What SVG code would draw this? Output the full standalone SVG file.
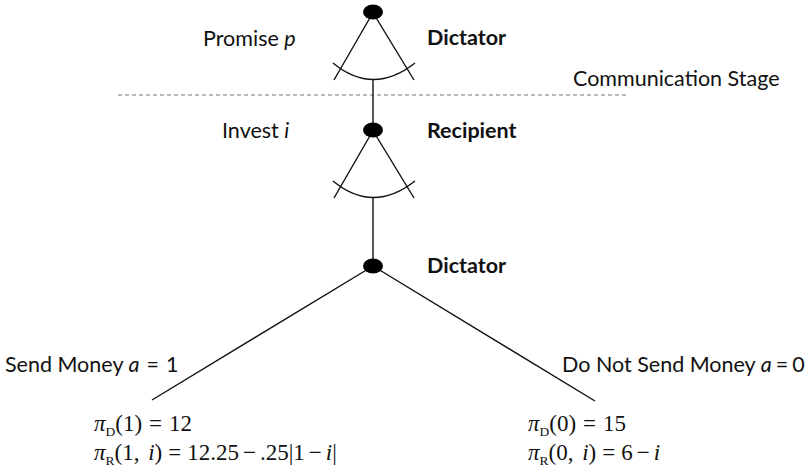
<svg xmlns="http://www.w3.org/2000/svg" width="808" height="473" viewBox="0 0 808 473">
<style>
.ln{stroke:#111;stroke-width:1.4;fill:none}
.dash{stroke:#777;stroke-width:1.2;stroke-dasharray:4,3;fill:none}
.nd{fill:#000}
.sans{font-family:Lato,"Open Sans","Liberation Sans",sans-serif;font-size:21.5px;fill:#111}
.b{font-weight:bold}
.math{font-family:"Liberation Serif","DejaVu Serif",serif;font-size:23px;fill:#111}
.sub{font-size:13.5px}
.it{font-style:italic}
</style>
<rect width="808" height="473" fill="#fff"/>
<g id="connectors">
<line class="dash" x1="118" y1="95" x2="628" y2="95"/>
<line class="ln" x1="371" y1="16" x2="334" y2="80"/>
<line class="ln" x1="375" y1="16" x2="414" y2="80"/>
<path class="ln" d="M333,63 Q373,96 415,63"/>
<line class="ln" x1="373" y1="80" x2="373" y2="126"/>
<line class="ln" x1="371" y1="134" x2="334" y2="198"/>
<line class="ln" x1="375" y1="134" x2="414" y2="198"/>
<path class="ln" d="M333,181 Q373,214 415,181"/>
<line class="ln" x1="373" y1="198" x2="373" y2="262"/>
<line class="ln" x1="373" y1="266" x2="152" y2="400"/>
<line class="ln" x1="373" y1="266" x2="595" y2="401"/>
</g>
<g id="node-dictator-top">
<ellipse class="nd" cx="373" cy="12" rx="10" ry="7.5"/>
<text class="sans" x="203" y="46">Promise <tspan class="it">p</tspan></text>
<text class="sans b" x="427" y="45">Dictator</text>
</g>
<g id="label-communication">
<text class="sans" x="573" y="86">Communication Stage</text>
</g>
<g id="node-recipient">
<ellipse class="nd" cx="373" cy="130" rx="10" ry="7.5"/>
<text class="sans" x="222" y="138">Invest <tspan class="it">i</tspan></text>
<text class="sans b" x="427" y="138">Recipient</text>
</g>
<g id="node-dictator-bottom">
<ellipse class="nd" cx="373" cy="266" rx="10" ry="7.5"/>
<text class="sans b" x="427" y="273">Dictator</text>
</g>
<g id="leaf-send">
<text class="sans" x="5" y="372">Send Money <tspan class="it">a</tspan><tspan dx="7">=</tspan><tspan dx="7">1</tspan></text>
<text class="math" x="94" y="431"><tspan class="it">π</tspan><tspan class="sub" dy="5">D</tspan><tspan dy="-5">(1)</tspan><tspan dx="7">=</tspan><tspan dx="7">12</tspan></text>
<text class="math" x="94" y="460"><tspan class="it">π</tspan><tspan class="sub" dy="5">R</tspan><tspan dy="-5">(1, </tspan><tspan class="it" dx="3">i</tspan>)<tspan dx="6">=</tspan><tspan dx="6">12.25</tspan><tspan dx="4">−</tspan><tspan dx="4">.25|1</tspan><tspan dx="4">−</tspan><tspan dx="4" class="it">i</tspan>|</text>
</g>
<g id="leaf-nosend">
<text class="sans" x="562" y="372">Do Not Send Money <tspan class="it">a</tspan><tspan dx="4">=</tspan><tspan dx="4">0</tspan></text>
<text class="math" x="528" y="431"><tspan class="it">π</tspan><tspan class="sub" dy="5">D</tspan><tspan dy="-5">(0)</tspan><tspan dx="7">=</tspan><tspan dx="7">15</tspan></text>
<text class="math" x="528" y="460"><tspan class="it">π</tspan><tspan class="sub" dy="5">R</tspan><tspan dy="-5">(0, </tspan><tspan class="it" dx="3">i</tspan>)<tspan dx="6">=</tspan><tspan dx="6">6</tspan><tspan dx="4">−</tspan><tspan dx="4" class="it">i</tspan></text>
</g>
</svg>
